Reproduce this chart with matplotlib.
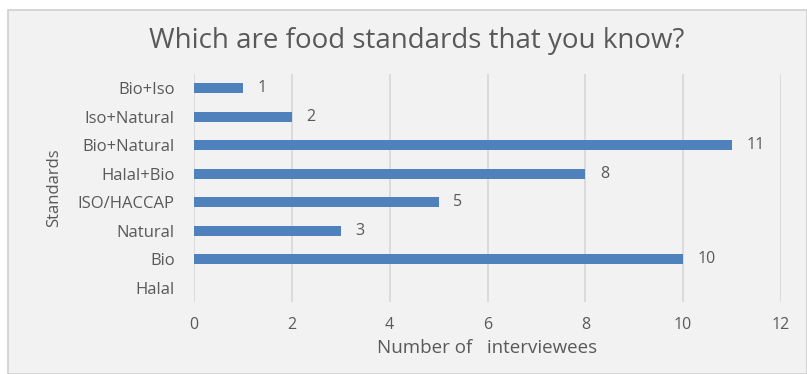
import matplotlib
matplotlib.use("Agg")
import matplotlib.pyplot as plt
from matplotlib.patches import Rectangle

categories = ["Halal", "Bio", "Natural", "ISO/HACCAP", "Halal+Bio", "Bio+Natural", "Iso+Natural", "Bio+Iso"]
values = [0, 10, 3, 5, 8, 11, 2, 1]
xticks = [0, 2, 4, 6, 8, 10, 12]

plt.rcParams['font.family'] = ['Open Sans', 'DejaVu Sans']
txt = '#595959'
fig = plt.figure(figsize=(8.07, 3.74), dpi=100)
fig.patch.set_facecolor('white')
bg = Rectangle((8/807, 0), 1 - 8/807, 1 - 10/374, transform=fig.transFigure,
               facecolor='#f2f2f2', edgecolor='#d0d0d0', linewidth=1.2, zorder=-10)
fig.add_artist(bg)
ax = fig.add_axes([194/807, 1 - 302/374, (781 - 194)/807, (302 - 74)/374])
ax.set_facecolor('none')
y = range(len(categories))
ax.barh(y, values, height=0.36, color='#4f81bd', zorder=3)
for yi, v in zip(y, values):
    if v > 0:
        ax.text(v + 0.3, yi, str(v), va='center', ha='left', fontsize=11.5, color=txt)
ax.set_xlim(0, 12)
ax.set_ylim(-0.5, len(categories) - 0.5)
ax.set_xticks(xticks)
ax.set_xticklabels([str(t) for t in xticks], fontsize=11.5, color=txt)
ax.set_yticks(list(y))
ax.set_yticklabels(categories, fontsize=12, color=txt)
ax.tick_params(axis='x', length=0, pad=11)
ax.tick_params(axis='y', length=0, pad=14)
ax.grid(axis='x', color='#d9d9d9', linewidth=1.3, zorder=0)
for s in ax.spines.values():
    s.set_visible(False)
ax.set_xlabel("Number of   interviewees", fontsize=13.5, color=txt, labelpad=4)
ax.set_ylabel("Standards", fontsize=12, color=txt, labelpad=11)
fig.text(417/807, 1 - 41/374, "Which are food standards that you know?",
         ha='center', va='center', fontsize=20, color=txt)
fig.savefig("out.png", dpi=100, facecolor=fig.get_facecolor())
